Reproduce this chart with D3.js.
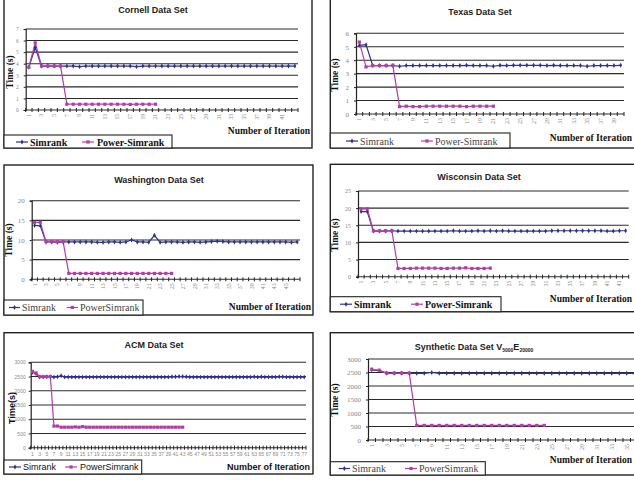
<!DOCTYPE html>
<html>
<head>
<meta charset="utf-8">
<script src="https://cdn.jsdelivr.net/npm/d3@7"></script>
<style>
  body { margin: 0; background: #fff; }
  svg { display: block; }
</style>
</head>
<body>
<div id="chart"></div>
<script>
// ---- data ----
const cornellSim = [3.7, 5.4, 3.8, 3.8, 3.8, 3.8, 3.8, 3.8, 3.75, 3.8,
  3.8, 3.8, 3.8, 3.8, 3.8, 3.8, 3.8, 3.75, 3.8, 3.8,
  3.8, 3.8, 3.8, 3.8, 3.8, 3.8, 3.8, 3.8, 3.8, 3.8,
  3.8, 3.8, 3.8, 3.8, 3.8, 3.8, 3.8, 3.8, 3.8, 3.8,
  3.8, 3.8, 3.8];
const cornellPow = [3.7, 5.8, 3.8, 3.8, 3.8, 3.8, 0.5, 0.5, 0.5, 0.5,
  0.5, 0.5, 0.5, 0.5, 0.5, 0.5, 0.48, 0.5, 0.5, 0.5, 0.5];

const texasSim = [5.1, 5.15, 3.6, 3.6, 3.6, 3.6, 3.55, 3.6, 3.6, 3.6,
  3.6, 3.6, 3.6, 3.6, 3.6, 3.6, 3.62, 3.6, 3.6, 3.6,
  3.55, 3.62, 3.6, 3.62, 3.62, 3.62, 3.62, 3.62, 3.6, 3.62,
  3.6, 3.6, 3.6, 3.6, 3.55, 3.6, 3.6, 3.6, 3.6, 3.62];
const texasPow = [5.35, 3.5, 3.6, 3.6, 3.6, 3.62, 0.55, 0.58, 0.55, 0.55,
  0.58, 0.58, 0.58, 0.58, 0.58, 0.58, 0.55, 0.58, 0.58, 0.58, 0.58];

const washSim = [13.7, 13.6, 9.5, 9.5, 9.4, 9.5, 9.5, 9.5, 9.5, 9.5,
  9.5, 9.4, 9.4, 9.5, 9.5, 9.4, 9.5, 10.0, 9.5, 9.5,
  9.4, 11.2, 9.4, 9.5, 9.5, 9.5, 9.4, 9.5, 9.5, 9.4,
  9.5, 9.6, 9.7, 9.6, 9.5, 9.5, 9.5, 9.5, 9.5, 9.5,
  9.5, 9.5, 9.5, 9.5, 9.5, 9.4, 9.5];
const washPow = [14.5, 14.5, 9.6, 9.6, 9.6, 9.6, 1.5, 1.5, 1.5, 1.5,
  1.5, 1.5, 1.5, 1.5, 1.5, 1.5, 1.5, 1.5, 1.5, 1.5,
  1.5, 1.5, 1.5, 1.5, 1.5];

const wiscSim = [19.0, 19.0, 13.3, 13.3, 13.3, 13.4, 13.3, 13.3, 13.3, 13.3,
  13.3, 13.3, 13.3, 13.3, 13.3, 13.4, 13.3, 13.3, 13.3, 13.4,
  13.3, 13.4, 13.3, 13.4, 13.3, 13.3, 13.3, 13.3, 13.3, 13.3,
  13.3, 13.4, 13.4, 13.4, 13.4, 13.4, 13.4, 13.4, 13.4, 13.4,
  13.3, 13.3, 13.4, 13.4];
const wiscPow = [19.8, 19.8, 13.4, 13.4, 13.4, 13.4, 2.4, 2.4, 2.4, 2.5,
  2.5, 2.5, 2.5, 2.4, 2.4, 2.5, 2.5, 2.6, 2.4, 2.4,
  2.4, 2.5];

const acmSim = [2650, 2600, 2480, 2480, 2490, 2490, 2480, 2490, 2530, 2480,
  2480, 2480, 2480, 2480, 2480, 2480, 2480, 2480, 2480, 2480,
  2480, 2480, 2480, 2480, 2480, 2480, 2480, 2480, 2480, 2480,
  2480, 2480, 2480, 2480, 2480, 2480, 2480, 2480, 2480, 2490,
  2490, 2500, 2500, 2490, 2480, 2480, 2480, 2480, 2480, 2480,
  2480, 2480, 2480, 2480, 2480, 2480, 2480, 2480, 2480, 2480,
  2480, 2480, 2490, 2480, 2490, 2480, 2480, 2480, 2480, 2490,
  2490, 2480, 2480, 2480, 2480, 2480, 2480];
const acmPow = [2680, 2620, 2500, 2500, 2500, 2500, 760, 760, 720, 720,
  720, 720, 730, 720, 740, 720, 720, 720, 720, 720,
  720, 720, 720, 720, 720, 720, 720, 720, 720, 720,
  720, 720, 720, 720, 720, 720, 720, 720, 720, 720,
  720, 720, 720];

const synSim = [2600, 2570, 2470, 2470, 2470, 2470, 2470, 2470, 2500, 2470,
  2470, 2470, 2470, 2470, 2470, 2470, 2470, 2470, 2470, 2470,
  2470, 2470, 2470, 2470, 2470, 2470, 2470, 2470, 2470, 2470,
  2470, 2470, 2470, 2470, 2470, 2470];
const synPow = [2620, 2580, 2480, 2480, 2480, 2480, 540, 540, 540, 540,
  540, 540, 540, 540, 540, 540, 540, 540, 540, 540,
  540, 540, 540, 540];

const simColor = "#2e3192";
const powColor = "#b43ca8";
const serif = "'Liberation Serif', 'Times New Roman', serif";
const sans = "'Liberation Sans', Arial, sans-serif";

const panels = [
  {title: "Cornell Data Set", sim: cornellSim, pow: cornellPow, n: 43, yMax: 7, yStep: 1,
   frame: [4, -2, 312, 148], plot: [25.7, 29, 298, 110], titlePos: [153, 13],
   yTitle: [10, 72], xTitle: [310, 134, "end"], legend: [4, 135, 172, 148, 142],
   leg: [16, 28, 30, 82, 94, 97], style: "bold", powName: "Power-Simrank", yLabSize: 5.5, xLabSize: 5.5, lastLabel: 41},
  {title: "Texas Data Set", sim: texasSim, pow: texasPow, n: 40, yMax: 6, yStep: 1,
   frame: [330.3, -2, 660, 148], plot: [356, 33.3, 624, 114], titlePos: [480, 15],
   yTitle: [335.3, 75], xTitle: [632, 141, "end"], legend: [330.3, 133, 510, 148, 141],
   leg: [346, 358, 360, 421, 433, 435], style: "serif", powName: "Power-Simrank", yLabSize: 7, xLabSize: 6, lastLabel: 39},
  {title: "Washington Data Set", sim: washSim, pow: washPow, n: 47, yMax: 20, yStep: 5,
   frame: [4, 165, 313, 315], plot: [31.7, 200.7, 300, 279.3], titlePos: [159, 183],
   yTitle: [9.3, 240], xTitle: [311, 310, "end"], legend: [4, 300, 143, 315, 307.5],
   leg: [9, 20, 22, 66.7, 78, 80], style: "serif", powName: "PowerSimrank", yLabSize: 7, xLabSize: 6, lastLabel: 45},
  {title: "Wisconsin Data Set", sim: wiscSim, pow: wiscPow, n: 44, yMax: 25, yStep: 5,
   frame: [330.3, 164.3, 660, 311.7], plot: [358, 191, 628.7, 276.7], titlePos: [479, 179.5],
   yTitle: [335.3, 235], xTitle: [632, 302, "end"], legend: [330.3, 296.7, 501, 311.7, 304.2],
   leg: [340, 352, 354, 411, 423, 425], style: "bold", powName: "Power-Simrank", yLabSize: 6, xLabSize: 5.5, lastLabel: 43},
  {title: "ACM Data Set", sim: acmSim, pow: acmPow, n: 77, yMax: 3000, yStep: 500,
   frame: [4, 332.7, 313, 474], plot: [30.7, 362.3, 306, 447.7], titlePos: [154, 347.5],
   yTitle: [11.7, 408], xTitle: [310, 469.5, "end"], legend: [4, 460, 141.7, 474, 467],
   leg: [9, 21, 23, 65, 77, 80], style: "sans", powName: "PowerSimrank", yLabSize: 5, xLabSize: 5, lastLabel: 77},
  {title: "Synthetic  Data Set V", sim: synSim, pow: synPow, n: 36, yMax: 3000, yStep: 500,
   frame: [330.3, 332.7, 660, 475], plot: [368, 359, 638, 440], titlePos: [474, 350],
   yTitle: [335.3, 400], xTitle: [632, 463, "end"], legend: [330.3, 461.7, 485.3, 475, 468.5],
   leg: [338.7, 350, 352, 405, 417, 419], style: "serif", powName: "PowerSimrank", yLabSize: 7, xLabSize: 6, lastLabel: 35,
   subs: ["5000", "E", "20000"]}
];

const svg = d3.select("#chart").append("svg")
  .attr("width", 634)
  .attr("height", 480);

function drawPanel(p) {
  const g = svg.append("g");
  const [fx0, fy0, fx1, fy1] = p.frame;
  const [px0, py0, px1, py1] = p.plot;

  g.append("rect")
    .attr("x", fx0).attr("y", fy0)
    .attr("width", fx1 - fx0).attr("height", fy1 - fy0)
    .attr("fill", "none")
    .attr("stroke", "#222")
    .attr("stroke-width", 1.4);

  const cats = d3.range(1, p.n + 1);
  const x = d3.scaleBand().domain(cats).range([px0, px1]);
  const y = d3.scaleLinear().domain([0, p.yMax]).range([py1, py0]);
  const yTicks = d3.range(0, p.yMax + p.yStep / 2, p.yStep);

  // gridlines
  g.append("g").selectAll("line")
    .data(yTicks)
    .join("line")
    .attr("x1", px0).attr("x2", px1)
    .attr("y1", d => y(d)).attr("y2", d => y(d))
    .attr("stroke", "#2a2a2a")
    .attr("stroke-width", 1.1);

  const labFont = p.style === "sans" ? sans : serif;

  // y axis
  const yAxis = g.append("g")
    .attr("transform", `translate(${px0},0)`)
    .call(d3.axisLeft(y).tickValues(yTicks).tickSize(2).tickPadding(p.style === "sans" ? 3 : 5).tickFormat(d3.format("d")));
  yAxis.select(".domain").attr("stroke", "#222").attr("stroke-width", 1.2);
  yAxis.selectAll(".tick line").attr("stroke", "#222");
  yAxis.selectAll("text")
    .attr("fill", "#888")
    .style("font-family", labFont)
    .style("font-size", p.yLabSize + "px");

  // category tick marks
  g.append("g").selectAll("line")
    .data(d3.range(0, p.n + 1))
    .join("line")
    .attr("x1", d => px0 + d * x.step()).attr("x2", d => px0 + d * x.step())
    .attr("y1", py1 - 2).attr("y2", py1 + 2)
    .attr("stroke", "#222");

  // x axis labels
  const xAxis = g.append("g")
    .attr("transform", `translate(0,${py1})`)
    .call(d3.axisBottom(x).tickValues(cats.filter(c => c % 2 === 1 && c <= p.lastLabel)).tickSize(0));
  xAxis.select(".domain").remove();
  const xt = xAxis.selectAll("text")
    .attr("fill", "#888")
    .style("font-family", labFont)
    .style("font-size", p.xLabSize + "px");
  if (p.style === "sans") {
    xt.attr("y", 5);
  } else {
    xt.attr("transform", "rotate(-90)")
      .attr("x", -4).attr("y", 0).attr("dy", "0.35em")
      .style("text-anchor", "end");
  }

  // series
  const line = d3.line()
    .x((d, i) => x(i + 1) + x.bandwidth() / 2)
    .y(d => y(d));

  g.append("path").datum(p.sim)
    .attr("d", line).attr("fill", "none")
    .attr("stroke", simColor).attr("stroke-width", 1.2);
  g.append("path").datum(p.pow)
    .attr("d", line).attr("fill", "none")
    .attr("stroke", powColor).attr("stroke-width", 1.2);

  g.append("g").selectAll("path")
    .data(p.sim)
    .join("path")
    .attr("transform", (d, i) => `translate(${x(i + 1) + x.bandwidth() / 2},${y(d)})`)
    .attr("d", d3.symbol(d3.symbolDiamond, 7))
    .attr("fill", simColor);
  g.append("g").selectAll("rect")
    .data(p.pow)
    .join("rect")
    .attr("x", (d, i) => x(i + 1) + x.bandwidth() / 2 - 1.6)
    .attr("y", d => y(d) - 1.6)
    .attr("width", 3.2).attr("height", 3.2)
    .attr("fill", powColor);

  // title
  const title = g.append("text")
    .attr("x", p.titlePos[0]).attr("y", p.titlePos[1])
    .attr("text-anchor", "middle")
    .attr("fill", "#222")
    .style("font-family", sans)
    .style("font-weight", "bold")
    .style("font-size", "9px")
    .text(p.title);
  if (p.subs) {
    title.append("tspan").attr("dy", 2).style("font-size", "5px").text(p.subs[0]);
    title.append("tspan").attr("dy", -2).text(p.subs[1]);
    title.append("tspan").attr("dy", 2).style("font-size", "5px").text(p.subs[2]);
  }

  // axis titles
  const axisFont = p.style === "sans" ? sans : serif;
  const axisSize = p.style === "sans" ? "9px" : "9.5px";
  g.append("text")
    .attr("transform", `translate(${p.yTitle[0] + 3},${p.yTitle[1]}) rotate(-90)`)
    .attr("text-anchor", "middle")
    .attr("fill", "#111")
    .style("font-family", axisFont)
    .style("font-weight", "bold")
    .style("font-size", axisSize)
    .text(p.style === "sans" ? "Time(s)" : "Time (s)");
  g.append("text")
    .attr("x", p.xTitle[0]).attr("y", p.xTitle[1])
    .attr("text-anchor", p.xTitle[2])
    .attr("fill", "#111")
    .style("font-family", axisFont)
    .style("font-weight", "bold")
    .style("font-size", axisSize)
    .text("Number of Iteration");

  // legend
  const [lx0, ly0, lx1, ly1, lcy] = p.legend;
  g.append("rect")
    .attr("x", lx0).attr("y", ly0)
    .attr("width", lx1 - lx0).attr("height", ly1 - ly0)
    .attr("fill", "#fff")
    .attr("stroke", "#222")
    .attr("stroke-width", 1.1);
  const [s0, s1, st, q0, q1, qt] = p.leg;
  g.append("line").attr("x1", s0).attr("x2", s1).attr("y1", lcy).attr("y2", lcy)
    .attr("stroke", simColor).attr("stroke-width", 1.2);
  g.append("path")
    .attr("transform", `translate(${(s0 + s1) / 2},${lcy})`)
    .attr("d", d3.symbol(d3.symbolDiamond, 7))
    .attr("fill", simColor);
  g.append("line").attr("x1", q0).attr("x2", q1).attr("y1", lcy).attr("y2", lcy)
    .attr("stroke", powColor).attr("stroke-width", 1.2);
  g.append("rect")
    .attr("x", (q0 + q1) / 2 - 1.6).attr("y", lcy - 1.6)
    .attr("width", 3.2).attr("height", 3.2)
    .attr("fill", powColor);

  const legFont = p.style === "sans" ? sans : serif;
  const legWeight = p.style === "bold" ? "bold" : "normal";
  [[st, "Simrank"], [qt, p.powName]].forEach(([tx, label]) => {
    g.append("text")
      .attr("x", tx).attr("y", lcy)
      .attr("dy", "0.35em")
      .attr("fill", p.style === "serif" ? "#444" : "#111")
      .style("font-family", legFont)
      .style("font-weight", legWeight)
      .style("font-size", p.style === "sans" ? "9px" : "10px")
      .text(label);
  });
}

panels.forEach(drawPanel);
</script>
</body>
</html>
